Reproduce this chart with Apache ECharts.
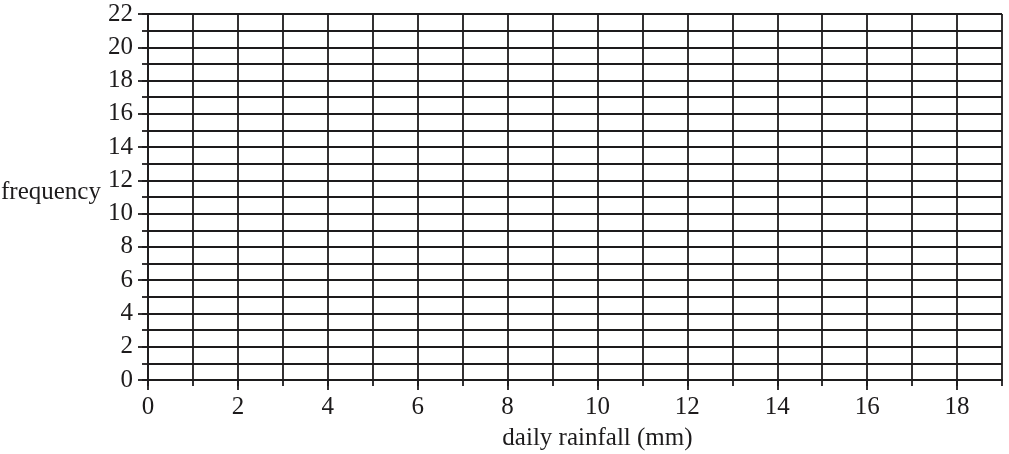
<!DOCTYPE html>
<html lang="en">
<head>
    <meta charset="UTF-8">
    <title>daily rainfall</title>
    <style>
        body,html{
            width: 1009px;
            height: 454px;
            margin: 0;
            background: #fff;
        }
        #chart{
            width: 1009px;
            height: 454px;
        }
    </style>
</head>
<body>
<div id="chart"></div>
<script src="https://cdn.jsdelivr.net/npm/echarts@6/dist/echarts.min.js"></script>
<script type="text/javascript">

    //axis ranges and tick labels
    let xMax = 19,
        yMax = 22;
    let xTicks = [0, 2, 4, 6, 8, 10, 12, 14, 16, 18];
    let yTicks = [0, 2, 4, 6, 8, 10, 12, 14, 16, 18, 20, 22];
    let xTitle = "daily rainfall (mm)",
        yTitle = "frequency";

    let ink = "#1d1b1c",
        font = "'Liberation Serif', 'Times New Roman', Times, serif";

    let chart = echarts.init(document.getElementById("chart"));

    //thin axis: grid lines + short ticks at every unit
    function gridAxis(max, tickLen) {
        return {
            type: 'value',
            min: 0,
            max: max,
            interval: 1,
            axisLine: {show: true, lineStyle: {color: ink, width: 1.8}},
            axisTick: {show: true, length: tickLen, lineStyle: {color: ink, width: 1.8}},
            axisLabel: {show: false},
            splitLine: {show: true, lineStyle: {color: ink, width: 1.8}}
        };
    }
    //label axis: long ticks + numbers on even values
    function labelAxis(max, ticks, tickLen, margin) {
        return {
            type: 'value',
            min: 0,
            max: max,
            interval: 2,
            axisLine: {show: false},
            axisTick: {show: true, length: tickLen, customValues: ticks, lineStyle: {color: ink, width: 1.8}},
            axisLabel: {
                show: true,
                customValues: ticks,
                margin: margin,
                color: ink,
                fontFamily: font,
                fontSize: 25
            },
            splitLine: {show: false}
        };
    }

    let xa = gridAxis(xMax, 6), xb = labelAxis(xMax, xTicks, 10, 15);
    xa.position = 'bottom'; xb.position = 'bottom';
    let ya = gridAxis(yMax, 6), yb = labelAxis(yMax, yTicks, 10, 15);
    ya.position = 'left'; yb.position = 'left';

    let option = {
        animation: false,
        backgroundColor: '#fff',
        grid: {left: 148, top: 14, right: 7, bottom: 74},
        xAxis: [xa, xb],
        yAxis: [ya, yb],
        series: [
            {
                type: 'line',
                xAxisIndex: 0,
                yAxisIndex: 0,
                data: []
            }
        ]
    };
    chart.setOption(option);

    //axis titles placed through the axis scales
    let xTitlePos = chart.convertToPixel({xAxisIndex: 0}, 10);
    let yTitlePos = chart.convertToPixel({yAxisIndex: 0}, 11.25);
    chart.setOption({
        graphic: [
            {
                type: 'text',
                x: xTitlePos,
                y: 438,
                style: {
                    text: xTitle,
                    fill: ink,
                    fontFamily: font,
                    fontSize: 25,
                    textAlign: 'center',
                    textVerticalAlign: 'middle'
                }
            },
            {
                type: 'text',
                x: 1,
                y: yTitlePos,
                style: {
                    text: yTitle,
                    fill: ink,
                    fontFamily: font,
                    fontSize: 25,
                    textAlign: 'left',
                    textVerticalAlign: 'middle'
                }
            }
        ]
    });
</script>
</body>
</html>
